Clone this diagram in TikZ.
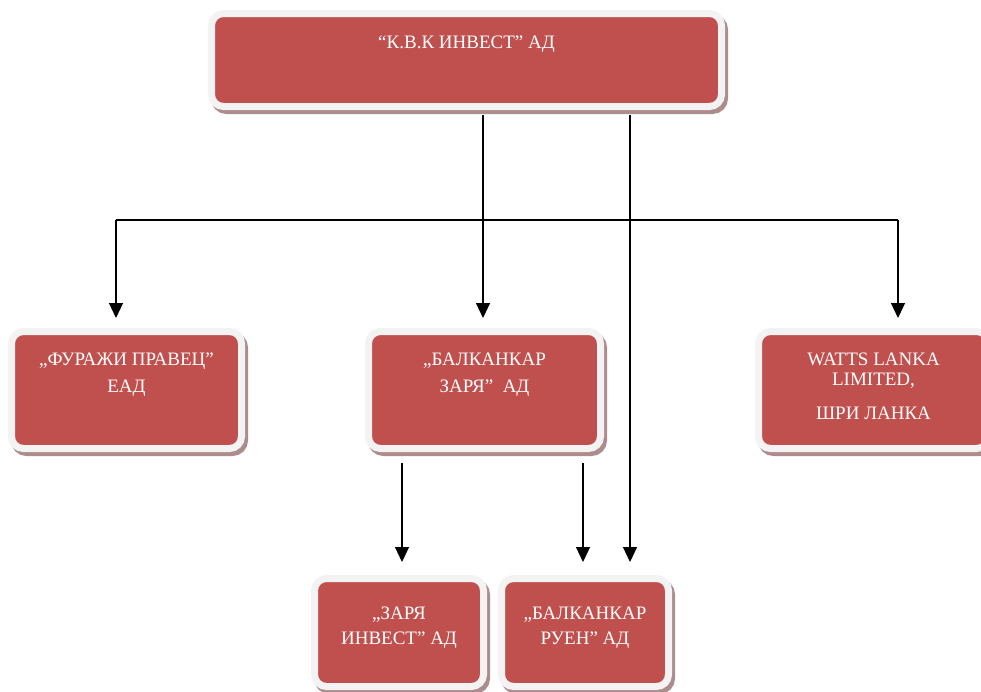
\documentclass[tikz,border=0pt]{standalone}
\usepackage{fontspec}
\setmainfont{Liberation Serif}
\usetikzlibrary{arrows.meta, positioning, shadows}

\definecolor{boxred}{RGB}{192,80,77}
\definecolor{framec}{RGB}{243,243,243}
\definecolor{shadowc}{RGB}{172,140,140}

\begin{document}
\begin{tikzpicture}[x=1pt, y=-1pt,
    orgbox/.style={rectangle, rounded corners=12pt, fill=boxred, draw=framec,
        line width=7pt, inner sep=0pt,
        general shadow={shadow xshift=3pt, shadow yshift=-4pt, fill=shadowc,
            draw=shadowc, line width=7pt, opacity=1}},
    boxtext/.style={text=white, align=center, inner sep=0pt,
        font=\fontsize{19}{27}\selectfont},
    arr/.style={-{Triangle[length=15pt, width=14pt]}, line width=1.1pt, shorten >=10pt}]
    \useasboundingbox (0,0) rectangle (981,691);

    % Boxes
    \node[orgbox, minimum width=510pt, minimum height=93pt] (kvk) at (466.5,60) {};
    \node[orgbox, minimum width=230pt, minimum height=117pt] (furazhi) at (126.5,390) {};
    \node[orgbox, minimum width=232pt, minimum height=117pt] (zarya) at (484.5,390) {};
    \node[orgbox, minimum width=230pt, minimum height=117pt] (watts) at (873.5,390) {};
    \node[orgbox, minimum width=169pt, minimum height=108pt] (zinvest) at (399,632.5) {};
    \node[orgbox, minimum width=167pt, minimum height=108pt] (ruen) at (585,632.5) {};

    % Texts
    \node[boxtext, below=26pt of kvk.north] (kvk-t) {“К.В.К ИНВЕСТ” АД};
    \node[boxtext, below=25pt of furazhi.north] (furazhi-t) {„ФУРАЖИ ПРАВЕЦ”\\ЕАД};
    \node[boxtext, below=25pt of zarya.north] (zarya-t) {„БАЛКАНКАР\\ЗАРЯ”\ \ АД};
    \node[boxtext, below=25pt of watts.north, font=\fontsize{19}{20}\selectfont] (watts-t)
        {WATTS LANKA\\LIMITED,\\[14pt]ШРИ ЛАНКА};
    \node[boxtext, below=32pt of zinvest.north, font=\fontsize{19}{25}\selectfont] (zinvest-t) {„ЗАРЯ\\ИНВЕСТ” АД};
    \node[boxtext, below=32pt of ruen.north, font=\fontsize{19}{25}\selectfont] (ruen-t) {„БАЛКАНКАР\\РУЕН” АД};

    % Connectors
    \coordinate (bl) at (116,220);
    \coordinate (br) at (898,220);
    \coordinate (km) at (483,0);
    \coordinate (kr) at (630,0);
    \coordinate (zl) at (402,0);
    \coordinate (zr) at (583,0);
    \draw[line width=1.1pt] (bl) -- (br);
    \draw[arr] (bl) -- (bl |- furazhi.north);
    \draw[arr] (br) -- (br |- watts.north);
    \draw[arr, shorten <=5pt] (kvk.south -| km) -- (zarya.north -| km);
    \draw[arr, shorten <=5pt, shorten >=13pt] (kvk.south -| kr) -- (ruen.north -| kr);
    \draw[arr, shorten <=11pt, shorten >=13pt] (zarya.south -| zl) -- (zinvest.north -| zl);
    \draw[arr, shorten <=11pt, shorten >=13pt] (zarya.south -| zr) -- (ruen.north -| zr);
\end{tikzpicture}
\end{document}
